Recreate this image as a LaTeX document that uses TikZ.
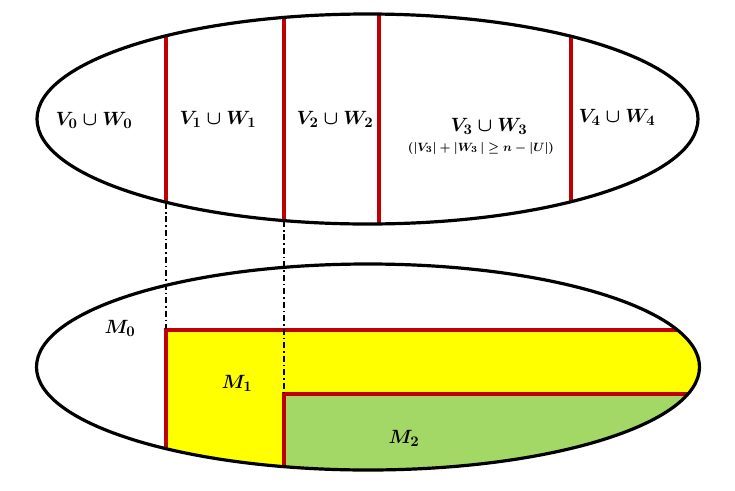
\documentclass[tikz,border=0pt]{standalone}
\usepackage{amsmath,amssymb}
\definecolor{redline}{RGB}{192,0,0}
\definecolor{yelfill}{RGB}{255,255,0}
\definecolor{grnfill}{RGB}{164,216,102}
\begin{document}
\begin{tikzpicture}[x=0.75pt,y=-0.75pt,
  ellipseline/.style={line width=2.4pt,black},
  redl/.style={line width=2.6pt,draw=redline},
  dashdotl/.style={line width=1.5pt,black,dash pattern=on 4.5pt off 2.2pt on 1.2pt off 2.2pt},
  lab/.style={font=\fontsize{15}{18}\selectfont\boldmath,inner sep=0pt},
  sublab/.style={font=\fontsize{9.5}{11}\selectfont\boldmath,inner sep=0pt}]
\useasboundingbox (0,0) rectangle (735,490);
% top ellipse partitions
\begin{scope}
\clip (367.5,119) ellipse [x radius=330.5, y radius=105];
\foreach \xx in {166,284,379,571}{\draw[redl] (\xx,0) -- (\xx,240);}
\end{scope}
\draw[ellipseline] (367.5,119) ellipse [x radius=330.5, y radius=105];
% bottom ellipse regions
\begin{scope}
\clip (368,367) ellipse [x radius=331.5, y radius=103];
\fill[yelfill] (166,330) rectangle (740,480);
\fill[grnfill] (284,394) rectangle (740,480);
\draw[redl] (166,480) -- (166,330) -- (740,330);
\draw[redl] (284,480) -- (284,394) -- (740,394);
\end{scope}
\draw[ellipseline] (368,367) ellipse [x radius=331.5, y radius=103];
% projection connectors
\coordinate (a1) at (166,203);
\coordinate (a2) at (166,329);
\coordinate (b1) at (284,221);
\coordinate (b2) at (284,393);
\draw[dashdotl] (a1) -- (a2);
\draw[dashdotl] (b1) -- (b2);
% labels
\node[lab] (t0) at (94,120) {$V_0\cup W_0$};
\node[lab] (t1) at (218,119) {$V_1\cup W_1$};
\node[lab] (t2) at (335,119) {$V_2\cup W_2$};
\node[lab] (t3) at (489,126) {$V_3\cup W_3$};
\node[sublab] (t3s) at (481,148) {$(|V_3|+|W_3\,|\geq n-|U|)$};
\node[lab] (t4) at (617,117) {$V_4\cup W_4$};
\node[lab] (m0) at (120,328) {$M_0$};
\node[lab] (m1) at (237,383) {$M_1$};
\node[lab] (m2) at (404,438) {$M_2$};
\end{tikzpicture}
\end{document}
